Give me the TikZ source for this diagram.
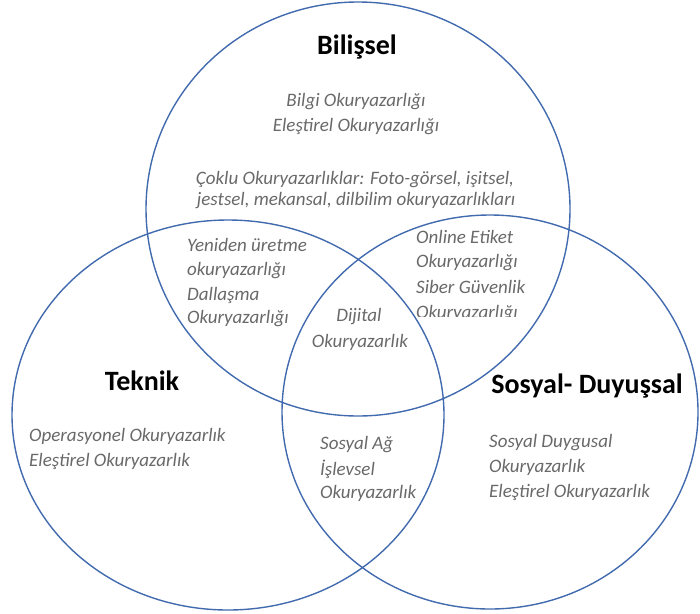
\documentclass[tikz,border=0pt]{standalone}
\usepackage{fontspec}
\setmainfont{Carlito}
\definecolor{ring}{RGB}{66,106,174}
\definecolor{txt}{RGB}{105,105,105}
\tikzset{
  ring/.style={draw=ring, line width=1.4pt},
  title/.style={font=\fontsize{28}{32}\selectfont\bfseries, text=black, inner sep=0pt},
  item/.style={font=\fontsize{19}{23}\selectfont\itshape, text=txt, inner sep=0pt},
}
\begin{document}
\begin{tikzpicture}[x=1pt,y=-1pt]
\useasboundingbox (0,0) rectangle (700,613);
\draw[ring] (358,209) ellipse [x radius=212pt, y radius=207pt];
\draw[ring] (228,415) ellipse [x radius=216pt, y radius=195pt];
\draw[ring] (490,412) ellipse [x radius=208pt, y radius=197pt];

% Bilissel
\node[title, anchor=base] (tb) at (357,54) {Bilişsel};
\node[item, anchor=base] (b1) at (356,106) {Bilgi Okuryazarlığı};
\node[item, anchor=base] (b2) at (356,131) {Eleştirel Okuryazarlığı};
\node[item, anchor=base] (b3) at (355,184) {Çoklu Okuryazarlıklar: Foto-görsel, işitsel,};
\node[item, anchor=base] (b4) at (356,205) {jestsel, mekansal, dilbilim okuryazarlıkları};

% left lens
\node[item, anchor=base west] (l1) at (187,251) {Yeniden üretme};
\node[item, anchor=base west] (l2) at (187,275) {okuryazarlığı};
\node[item, anchor=base west] (l3) at (187,300) {Dallaşma};
\node[item, anchor=base west] (l4) at (187,323) {Okuryazarlığı};

% right lens
\node[item, anchor=base west] (r1) at (416,243) {Online Etiket};
\node[item, anchor=base west] (r2) at (416,267) {Okuryazarlığı};
\node[item, anchor=base west] (r3) at (416,293) {Siber Güvenlik};
\begin{scope}
\clip (0,0) rectangle (700,316);
\node[item, anchor=base west] (r4) at (416,318) {Okuryazarlığı};
\end{scope}

% center
\node[item, anchor=base] (c1) at (359,321) {Dijital};
\node[item, anchor=base] (c2) at (360,347) {Okuryazarlık};

% bottom lens
\node[item, anchor=base west] (s1) at (320,449) {Sosyal Ağ};
\node[item, anchor=base west] (s2) at (320,475) {İşlevsel};
\node[item, anchor=base west] (s3) at (320,498) {Okuryazarlık};

% Teknik
\node[title, anchor=base] (tt) at (142,390) {Teknik};
\node[item, anchor=base west] (t1) at (29,441) {Operasyonel Okuryazarlık};
\node[item, anchor=base west] (t2) at (29,466) {Eleştirel Okuryazarlık};

% Sosyal-Duyussal
\node[title, anchor=base] (ts) at (587,393) {Sosyal- Duyuşsal};
\node[item, anchor=base west] (d1) at (489,447) {Sosyal Duygusal};
\node[item, anchor=base west] (d2) at (489,472) {Okuryazarlık};
\node[item, anchor=base west] (d3) at (489,497) {Eleştirel Okuryazarlık};
\end{tikzpicture}
\end{document}
